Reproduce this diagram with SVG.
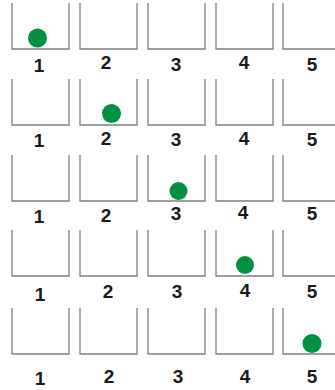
<svg xmlns="http://www.w3.org/2000/svg" width="335" height="390" viewBox="0 0 335 390">
<defs>
<style>
.cup{fill:none;stroke:#7f7f7f;stroke-width:1.3}
.ball{fill:#009140}
.lbl{font-family:"Liberation Sans",Arial,sans-serif;font-weight:bold;font-size:19px;fill:#1a1a1a;text-anchor:middle}
</style>
<path id="c" class="cup" d="M0,0 V46 H57 V0"/>
</defs>
<rect width="335" height="390" fill="#fff"/>
<g id="row1">
<use href="#c" x="12" y="3"/><use href="#c" x="80" y="3"/><use href="#c" x="148" y="3"/><use href="#c" x="216" y="3"/><use href="#c" x="283" y="3"/>
<circle class="ball" cx="37.5" cy="38" r="9.5"/>
<text class="lbl" x="39" y="72">1</text><text class="lbl" x="106" y="69">2</text><text class="lbl" x="176" y="71">3</text><text class="lbl" x="244" y="69">4</text><text class="lbl" x="312" y="71">5</text>
</g>
<g id="row2">
<use href="#c" x="12" y="79"/><use href="#c" x="80" y="79"/><use href="#c" x="148" y="79"/><use href="#c" x="216" y="79"/><use href="#c" x="283" y="79"/>
<circle class="ball" cx="111.5" cy="113.5" r="9.5"/>
<text class="lbl" x="39" y="147">1</text><text class="lbl" x="106" y="145">2</text><text class="lbl" x="176" y="146">3</text><text class="lbl" x="244" y="145">4</text><text class="lbl" x="312" y="146">5</text>
</g>
<g id="row3">
<use href="#c" x="12" y="155"/><use href="#c" x="80" y="155"/><use href="#c" x="148" y="155"/><use href="#c" x="216" y="155"/><use href="#c" x="283" y="155"/>
<circle class="ball" cx="178.5" cy="191" r="9"/>
<text class="lbl" x="39" y="223">1</text><text class="lbl" x="106" y="222">2</text><text class="lbl" x="176" y="220">3</text><text class="lbl" x="243" y="219">4</text><text class="lbl" x="312" y="220">5</text>
</g>
<g id="row4">
<use href="#c" x="12" y="230"/><use href="#c" x="80" y="230"/><use href="#c" x="148" y="230"/><use href="#c" x="216" y="230"/><use href="#c" x="283" y="230"/>
<circle class="ball" cx="245" cy="265" r="9"/>
<text class="lbl" x="40" y="301">1</text><text class="lbl" x="108" y="298">2</text><text class="lbl" x="177" y="298">3</text><text class="lbl" x="245" y="297">4</text><text class="lbl" x="312" y="298">5</text>
</g>
<g id="row5">
<use href="#c" x="12" y="308"/><use href="#c" x="80" y="308"/><use href="#c" x="148" y="308"/><use href="#c" x="216" y="308"/><use href="#c" x="283" y="308"/>
<circle class="ball" cx="312" cy="343.5" r="9.5"/>
<text class="lbl" x="40" y="385">1</text><text class="lbl" x="109" y="383">2</text><text class="lbl" x="178" y="383">3</text><text class="lbl" x="245" y="383">4</text><text class="lbl" x="312" y="383">5</text>
</g>
</svg>
